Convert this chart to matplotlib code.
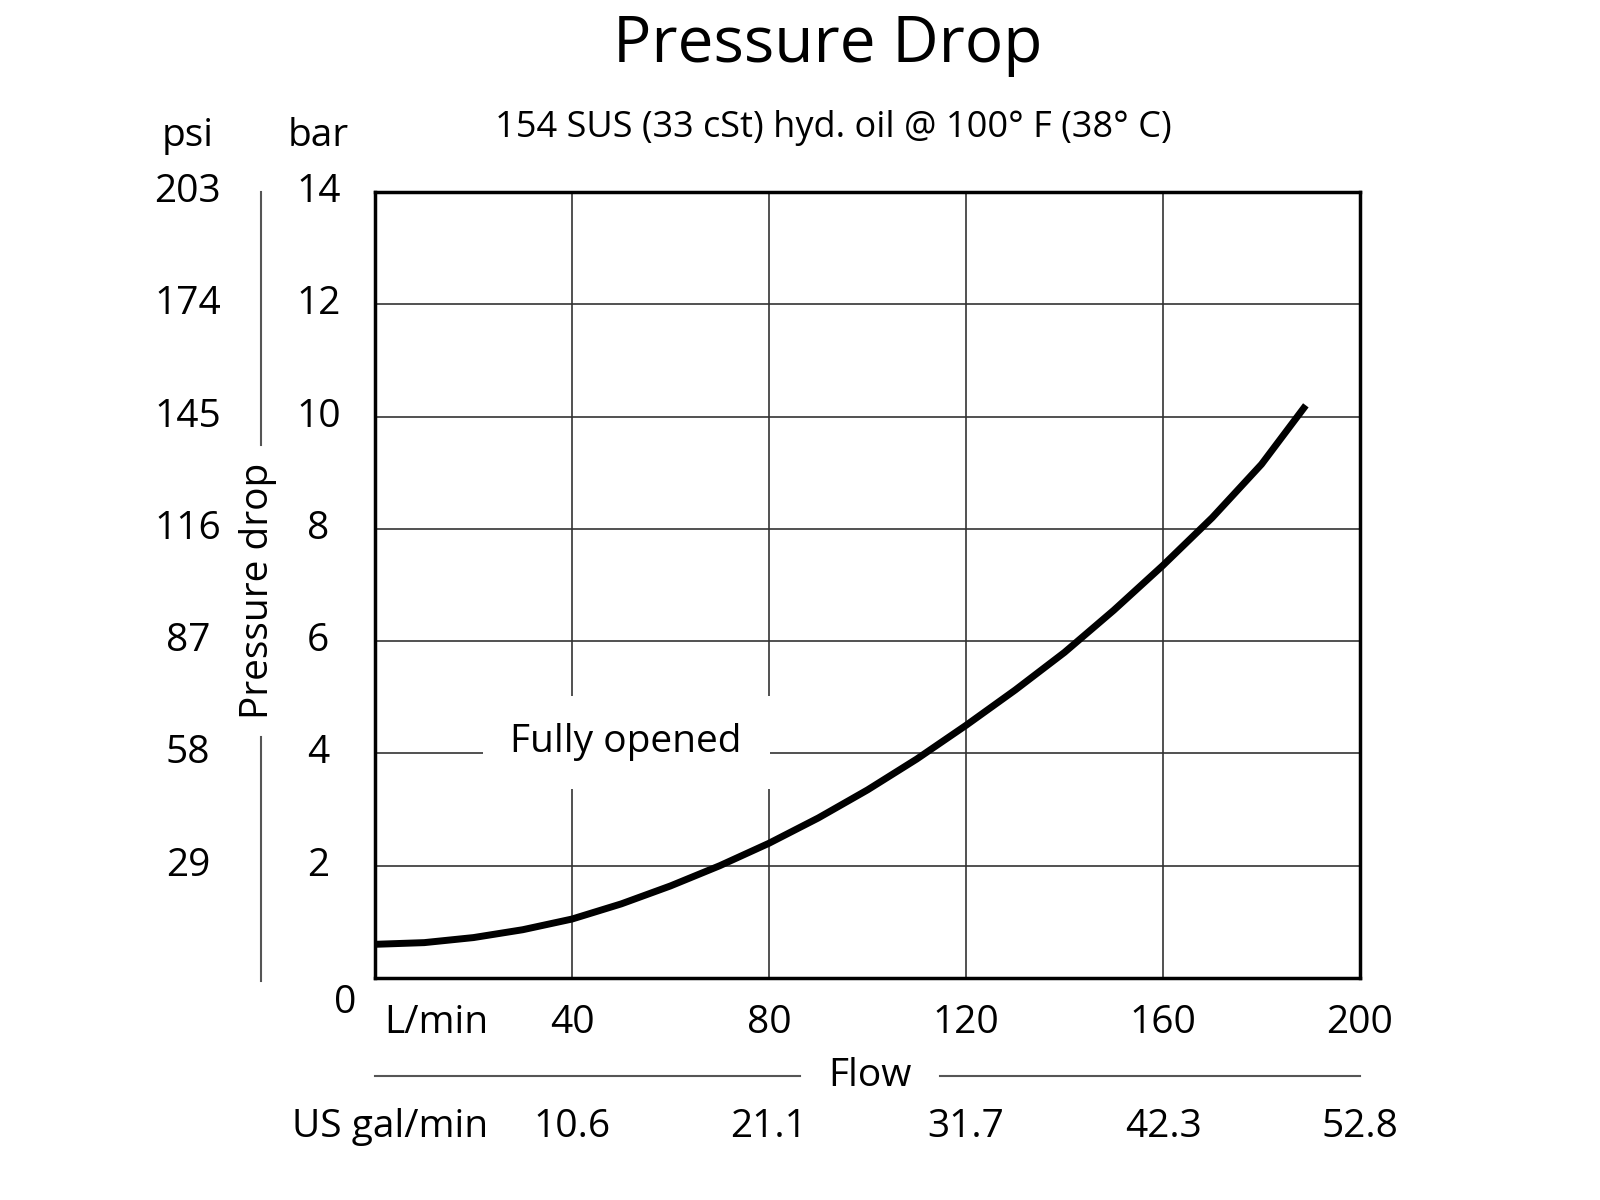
import numpy as np
import matplotlib.pyplot as plt

plt.rcParams['font.family'] = ['Open Sans', 'DejaVu Sans']

# data
flow = [0, 10, 20, 30, 40, 50, 60, 70, 80, 90, 100, 110, 120, 130, 140, 150,
        160, 170, 180, 189]
dp_bar = [0.6, 0.63, 0.72, 0.86, 1.05, 1.32, 1.64, 2.0, 2.4, 2.85, 3.35, 3.9,
          4.5, 5.13, 5.8, 6.55, 7.35, 8.2, 9.15, 10.2]
bar_ticks = [2, 4, 6, 8, 10, 12, 14]
psi_labels = ['29', '58', '87', '116', '145', '174', '203']
lpm_ticks = [40, 80, 120, 160, 200]
gpm_labels = ['10.6', '21.1', '31.7', '42.3', '52.8']

fig = plt.figure(figsize=(16, 12), dpi=100)
ax = fig.add_axes([375/1600, 1-978/1200, 985/1600, 786/1200])
ax.set_xlim(0, 200)
ax.set_ylim(0, 14)
ax.set_xticks(lpm_ticks)
ax.set_yticks(bar_ticks)
ax.grid(True, color='#333333', lw=1.2)
ax.tick_params(length=0, labelbottom=False, labelleft=False)
for s in ax.spines.values():
    s.set_linewidth(2.5)
ax.plot(flow, dp_bar, color='black', lw=5, solid_capstyle='butt',
        solid_joinstyle='round')

ax.text(51, 4.2, 'Fully opened', fontsize=28, ha='center', va='center',
        bbox=dict(facecolor='white', edgecolor='none', pad=20))

kw = dict(clip_on=False, fontsize=28, va='center')
for b, p in zip(bar_ticks, psi_labels):
    ax.text(-11.5, b, str(b), ha='center', **kw)
    ax.text(-38, b, p, ha='center', **kw)
ax.text(-6, -0.45, '0', ha='center', **kw)
ax.text(-11.5, 15.0, 'bar', ha='center', **kw)
ax.text(-38, 15.0, 'psi', ha='center', **kw)

for f, g in zip(lpm_ticks, gpm_labels):
    ax.text(f, -0.8, str(f), ha='center', **kw)
    ax.text(f, -2.66, g, ha='center', **kw)
ax.text(12.5, -0.8, 'L/min', ha='center', **kw)
ax.text(3, -2.66, 'US gal/min', ha='center', **kw)
ax.text(100.5, -1.75, 'Flow', ha='center', **kw)
ax.plot([0, 86.3], [-1.74, -1.74], color='#555555', lw=1.5, clip_on=False)
ax.plot([114.7, 200], [-1.74, -1.74], color='#555555', lw=1.5, clip_on=False)

ax.plot([-23.1, -23.1], [14, 9.5], color='#555555', lw=1.5, clip_on=False)
ax.plot([-23.1, -23.1], [4.3, -0.05], color='#555555', lw=1.5, clip_on=False)
ax.text(-23.8, 6.9, 'Pressure drop', rotation=90, ha='center', **kw)

fig.text(828/1600, 1-45/1200, 'Pressure Drop', fontsize=46, ha='center', va='center')
fig.text(833/1600, 1-128/1200, '154 SUS (33 cSt) hyd. oil @ 100° F (38° C)',
         fontsize=26, ha='center', va='center')

fig.savefig('out.png')
